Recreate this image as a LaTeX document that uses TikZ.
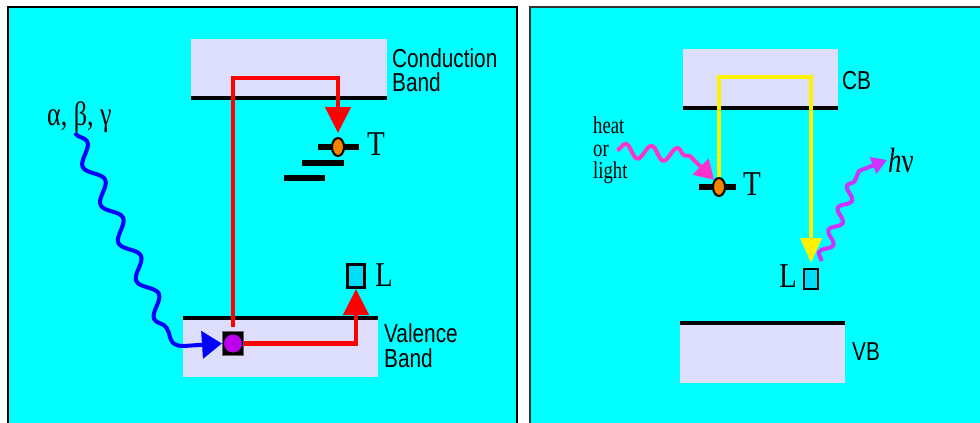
\documentclass[tikz,border=0pt]{standalone}
\usepackage{fontspec}
\setmainfont{Liberation Serif}
\setsansfont{Liberation Sans}
\usetikzlibrary{arrows.meta,decorations.pathmorphing,shapes.geometric,calc}
\definecolor{bg}{HTML}{00FFFF}
\definecolor{band}{HTML}{DDDDFC}
\definecolor{lumfill}{HTML}{00DDF8}
\definecolor{orng}{HTML}{F58200}
\definecolor{purp}{HTML}{BB00EE}
\definecolor{pinkw}{HTML}{FF33CC}
\definecolor{violw}{HTML}{CC33FF}
\begin{document}
\begin{tikzpicture}[x=1pt,y=-1pt,
  bandbox/.style={fill=band,draw=none,inner sep=0pt,outer sep=0pt},
  bandedge/.style={line width=4pt},
  level/.style={fill=black,inner sep=0pt,outer sep=0pt,minimum height=6pt},
  trap/.style={ellipse,draw=black,line width=2pt,fill=orng,minimum width=12pt,minimum height=18pt,inner sep=0pt},
  lum/.style={draw=black,fill=lumfill,inner sep=0pt},
  sanslbl/.style={font=\sffamily\fontsize{26}{26}\selectfont,xscale=0.8,anchor=base west,inner sep=0pt},
  biglbl/.style={font=\fontsize{29}{29}\selectfont,yscale=1.2,anchor=base west,inner sep=0pt},
  smalllbl/.style={font=\fontsize{22}{22}\selectfont,xscale=0.85,yscale=1.1,anchor=base west,inner sep=0pt},
  redline/.style={draw=red,line width=4.5pt,-{Triangle[length=26pt,width=25pt]}},
  yelline/.style={draw=yellow,line width=3.5pt,-{Triangle[length=25pt,width=21pt]}},
  wave/.style={line width=4pt,line join=round}
]
\useasboundingbox (0,0) rectangle (980,423);
\clip (0,0) rectangle (980,423);
\fill[white] (0,0) rectangle (980,423);
% panels
\fill[bg] (8,7) rectangle (517,430);
\draw[line width=2pt] (8,430) -- (8,7) -- (517,7) -- (517,430);
\fill[bg] (530,7) rectangle (990,430);
\draw[line width=2pt,draw=black!80] (530,430) -- (530,7) -- (990,7);

% ---------------- left panel ----------------
\node[bandbox,minimum width=196pt,minimum height=59pt] (cbL) at (289,68.5) {};
\draw[bandedge] (cbL.south west) -- (cbL.south east);
\node[bandbox,minimum width=195pt,minimum height=59pt] (vbL) at (280.5,347.5) {};
\draw[bandedge] (vbL.north west) -- (vbL.north east);

\node[sanslbl] (cbL1) at (392,67) {Conduction};
\node[sanslbl] (cbL2) at (392,91) {Band};
\node[sanslbl] (vbL1) at (384,342) {Valence};
\node[sanslbl] (vbL2) at (384,367) {Band};

\node[level,minimum width=41pt] (lvT) at (338.5,147) {};
\node[level,minimum width=42pt] (lv2) at (323,163) {};
\node[level,minimum width=41pt] (lv3) at (304.5,178) {};
\node[trap] (trapL) at (338,147) {};
\node[biglbl] (Tl) at (367,155) {T};

\node[lum,line width=3pt,minimum width=17pt,minimum height=23pt] (lumL) at (356,276) {};
\node[biglbl] (Ll) at (375,286) {L};

\node[draw=black!60,fill=black,line width=1pt,minimum width=21pt,minimum height=24pt,inner sep=0pt] (hole) at (233,343.5) {};
\node[circle,fill=purp,minimum size=18pt,inner sep=0pt] (holedot) at (hole) {};

\node[font=\fontsize{26}{26}\selectfont,yscale=1.3,anchor=base west,inner sep=0pt] (rad) at (47,125) {α, β, γ};
\coordinate (radsrc) at (75,133);
\coordinate (rcorner) at (280,78);

\draw[redline,shorten <=4pt,shorten >=4pt] (hole.north) |- (rcorner) -| (trapL.north);
\draw[redline] (hole.east) -| (lumL.south);
\draw[wave,blue,-{Triangle[length=20pt,width=27pt]}] (radsrc)
  decorate[decoration={snake,segment length=42pt,amplitude=7.5pt}] {-- (169,333)}
  .. controls (171,344) and (175,346) .. (184,346) -- (hole.west);

% ---------------- right panel ----------------
\node[bandbox,minimum width=155pt,minimum height=59pt] (cbR) at (760.5,78.5) {};
\draw[bandedge] (cbR.south west) -- (cbR.south east);
\node[bandbox,minimum width=165pt,minimum height=60pt] (vbR) at (762.5,353) {};
\draw[bandedge] (vbR.north west) -- (vbR.north east);

\node[sanslbl] (cbRl) at (842,89) {CB};
\node[sanslbl] (vbRl) at (852,360) {VB};

\node[level,minimum width=37pt] (lvTR) at (717.5,187) {};
\node[trap] (trapR) at (719,187) {};
\node[biglbl] (Tr) at (743,195) {T};

\node[lum,line width=2pt,minimum width=14pt,minimum height=20pt] (lumR) at (811,279) {};
\node[biglbl] (Lr) at (779,287) {L};

\node[smalllbl] (heat1) at (593,133) {heat};
\node[smalllbl] (heat2) at (593,156) {or};
\node[smalllbl] (heat3) at (593,178) {light};

\node[font=\fontsize{27}{27}\selectfont,yscale=1.3,anchor=base west,inner sep=1pt] (hnu) at (887,172) {\textit{h}ν};

\coordinate (ycorner) at (760,77);
\coordinate (heatsrc) at (617,150);
\coordinate (emit) at (821,261);

\draw[yelline,shorten >=5pt] (trapR.north) |- (ycorner) -| (lumR.north);
\draw[wave,pinkw,-{Triangle[length=19pt,width=22pt]}] (heatsrc)
  decorate[decoration={snake,segment length=26pt,amplitude=7pt}] {-- (690,156)}
  -- (trapR.north west);
\draw[wave,violw,-{Triangle[length=15pt,width=17pt]}] (emit)
  decorate[decoration={snake,segment length=24pt,amplitude=5.5pt}] {-- (859,171)}
  -- (hnu.west);
\end{tikzpicture}
\end{document}
